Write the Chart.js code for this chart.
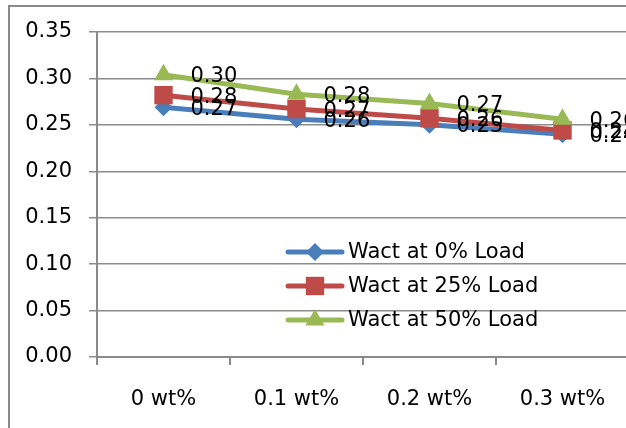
<!DOCTYPE html>
<html>
<head>
<meta charset="utf-8">
<script src="https://cdn.jsdelivr.net/npm/chart.js@4.4.0/dist/chart.umd.min.js"></script>
<style>
  html, body { margin: 0; padding: 0; background: #fff; overflow: hidden; width: 626px; height: 428px; }
  .frame { position: absolute; left: 8px; top: 5px; width: 800px; height: 600px; border: 2px solid #8a8a8a; }
  #myChart { position: absolute; left: 0; top: 0; }
</style>
</head>
<body>
<div class="frame"></div>
<canvas id="myChart" width="700" height="428"></canvas>
<script>
const labels = ['0 wt%', '0.1 wt%', '0.2 wt%', '0.3 wt%'];
const seriesNames = ['Wact at 0% Load', 'Wact at 25% Load', 'Wact at 50% Load'];
const load0 = [0.269, 0.256, 0.250, 0.240];
const load25 = [0.282, 0.267, 0.257, 0.244];
const load50 = [0.304, 0.283, 0.273, 0.256];
const yTicks = [0, 0.05, 0.10, 0.15, 0.20, 0.25, 0.30, 0.35];

const FONT = '"DejaVu Sans", sans-serif';
const colors = ['#4a7ebb', '#be4b48', '#98b954'];
const shapes = ['rectRot', 'rect', 'triangle'];
const radii = [9, 13, 11];

// draw one marker (legend)
function marker(ctx, shape, r, x, y, color) {
  ctx.fillStyle = color;
  ctx.beginPath();
  if (shape === 'rectRot') {
    ctx.moveTo(x, y - r); ctx.lineTo(x + r, y); ctx.lineTo(x, y + r); ctx.lineTo(x - r, y);
  } else if (shape === 'rect') {
    const s = Math.SQRT1_2 * r;
    ctx.rect(x - s, y - s, 2 * s, 2 * s);
  } else {
    const h = Math.sqrt(3) / 2 * r;
    ctx.moveTo(x, y - r); ctx.lineTo(x + h, y + r / 2); ctx.lineTo(x - h, y + r / 2);
  }
  ctx.closePath();
  ctx.fill();
}

const valueLabels = {
  id: 'valueLabels',
  afterDatasetsDraw(chart) {
    const ctx = chart.ctx;
    ctx.save();
    ctx.font = '21px ' + FONT;
    ctx.fillStyle = '#000';
    ctx.textAlign = 'left';
    ctx.textBaseline = 'middle';
    chart.data.datasets.forEach((ds, i) => {
      chart.getDatasetMeta(i).data.forEach((pt, j) => {
        ctx.fillText(ds.data[j].toFixed(2), pt.x + 27, pt.y + 2);
      });
    });
    ctx.restore();
  }
};

const innerLegend = {
  id: 'innerLegend',
  afterDraw(chart) {
    const ctx = chart.ctx;
    const area = chart.chartArea;
    const x0 = area.left + 191;
    const y0 = area.top + 220;
    ctx.save();
    ctx.font = '21px ' + FONT;
    ctx.textAlign = 'left';
    ctx.textBaseline = 'middle';
    chart.data.datasets.forEach((ds, i) => {
      const y = y0 + i * 34;
      ctx.strokeStyle = colors[i];
      ctx.lineWidth = 5;
      ctx.lineCap = 'round';
      ctx.beginPath();
      ctx.moveTo(x0, y);
      ctx.lineTo(x0 + 54, y);
      ctx.stroke();
      marker(ctx, shapes[i], radii[i], x0 + 27, y, colors[i]);
      ctx.fillStyle = '#000';
      ctx.fillText(ds.label, x0 + 60, y + 1);
    });
    ctx.restore();
  }
};

const datasets = [load0, load25, load50].map((values, i) => ({
  label: seriesNames[i],
  data: values,
  borderColor: colors[i],
  backgroundColor: colors[i],
  borderWidth: 5,
  tension: 0,
  pointStyle: shapes[i],
  pointRadius: radii[i],
  pointBorderWidth: 0,
  pointBackgroundColor: colors[i],
  order: 3 - i,
}));

const chart = new Chart(
  document.getElementById('myChart'),
  {
    type: 'line',
    data: { labels: labels, datasets: datasets },
    plugins: [valueLabels, innerLegend],
    options: {
      responsive: false,
      animation: false,
      layout: { padding: { left: 0, top: 32, right: 71, bottom: 0 } },
      plugins: {
        legend: { display: false },
        tooltip: { enabled: false },
      },
      scales: {
        x: {
          offset: true,
          grid: { offset: true, drawOnChartArea: false, drawTicks: true, tickLength: 8, color: '#8a8a8a', lineWidth: 2 },
          border: { color: '#8a8a8a', width: 2 },
          ticks: { color: '#000', font: { family: FONT, size: 21 }, padding: 22, maxRotation: 0 },
          afterFit(scale) { scale.height = 71; },
        },
        y: {
          min: yTicks[0],
          max: yTicks[yTicks.length - 1],
          afterBuildTicks(scale) { scale.ticks = yTicks.map(v => ({ value: v })); },
          grid: { color: '#8c8c8c', lineWidth: 1.5, tickLength: 8 },
          border: { color: '#8a8a8a', width: 2 },
          ticks: { color: '#000', font: { family: FONT, size: 21 }, padding: 17, callback: v => v.toFixed(2) },
          afterFit(scale) { scale.width = 97; },
        },
      },
    },
  }
);
</script>
</body>
</html>
